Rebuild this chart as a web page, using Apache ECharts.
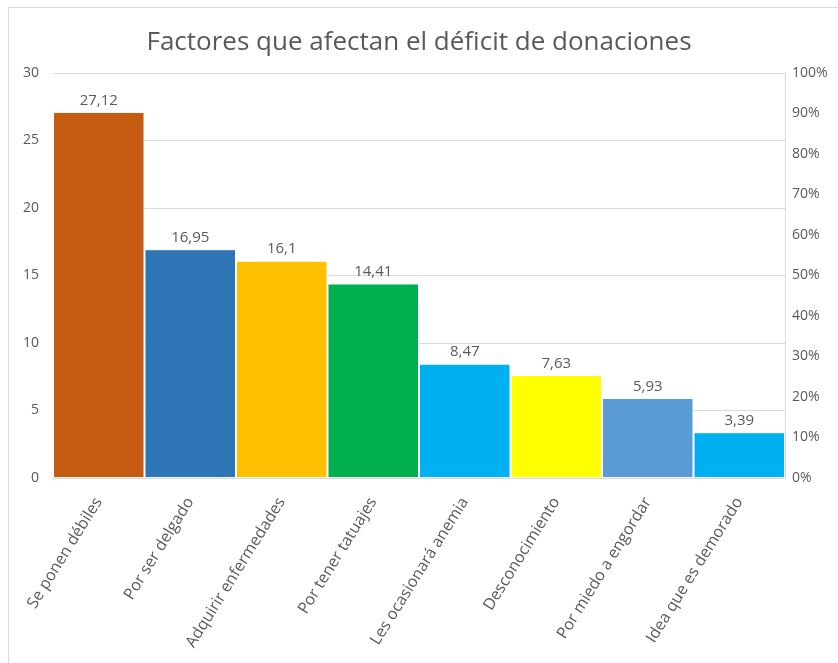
<!DOCTYPE html>
<html>
<head>
<meta charset="utf-8">
<script src="https://cdn.jsdelivr.net/npm/echarts@6/dist/echarts.min.js"></script>
<style>
  html, body { margin: 0; padding: 0; background: #fff; }
  #chart { width: 838px; height: 663px; }
</style>
</head>
<body>
<div id="chart"></div>
<script>
const categories = [
  'Se ponen débiles', 'Por ser delgado', 'Adquirir enfermedades', 'Por tener tatuajes',
  'Les ocasionará anemia', 'Desconocimiento', 'Por miedo a engordar', 'Idea que es demorado'
];
const values = [27.12, 16.95, 16.1, 14.41, 8.47, 7.63, 5.93, 3.39];
const barColors = ['#C55A11', '#2E75B6', '#FFC000', '#00B050', '#00B0F0', '#FFFF00', '#5B9BD5', '#00B0F0'];

const font = '"Open Sans", "Noto Sans", sans-serif';
const textColor = '#595959';

const chart = echarts.init(document.getElementById('chart'), null, { renderer: 'canvas' });
chart.setOption({
  animation: false,
  backgroundColor: '#fff',
  graphic: [{
    type: 'rect',
    shape: { x: 8.5, y: 7.5, width: 840, height: 670 },
    style: { fill: 'none', stroke: '#d9d9d9', lineWidth: 1 },
    silent: true
  }],
  title: {
    text: 'Factores que afectan el déficit de donaciones',
    left: 'center',
    top: 25,
    textStyle: { fontFamily: font, fontSize: 26, fontWeight: 'normal', color: textColor }
  },
  grid: { left: 53, right: 53, top: 73, bottom: 185, containLabel: false },
  xAxis: {
    type: 'category',
    data: categories,
    axisTick: { show: false },
    axisLine: { show: true, lineStyle: { color: '#d9d9d9' } },
    axisLabel: {
      interval: 0, rotate: 58, margin: 21,
      fontFamily: font, fontSize: 16, color: textColor
    }
  },
  yAxis: [{
    type: 'value', min: 0, max: 30, interval: 5,
    axisLine: { show: false }, axisTick: { show: false },
    splitLine: { lineStyle: { color: '#d9d9d9' } },
    axisLabel: { margin: 14, fontFamily: font, fontSize: 14, color: textColor }
  }, {
    type: 'value', min: 0, max: 1, interval: 0.1, position: 'right',
    axisLine: { show: true, lineStyle: { color: '#d9d9d9' } }, axisTick: { show: false },
    splitLine: { show: false },
    axisLabel: {
      margin: 7, fontFamily: font, fontSize: 14, color: textColor,
      formatter: v => Math.round(v * 100) + '%'
    }
  }],
  series: [{
    type: 'bar',
    yAxisIndex: 0,
    barCategoryGap: 0,
    data: values.map((v, i) => ({
      value: v,
      itemStyle: { color: barColors[i], borderColor: '#fff', borderWidth: 1 }
    })),
    label: {
      show: true, position: 'top', distance: 4,
      fontFamily: font, fontSize: 15, color: textColor,
      formatter: p => String(p.value).replace('.', ',')
    }
  }]
});
</script>
</body>
</html>
